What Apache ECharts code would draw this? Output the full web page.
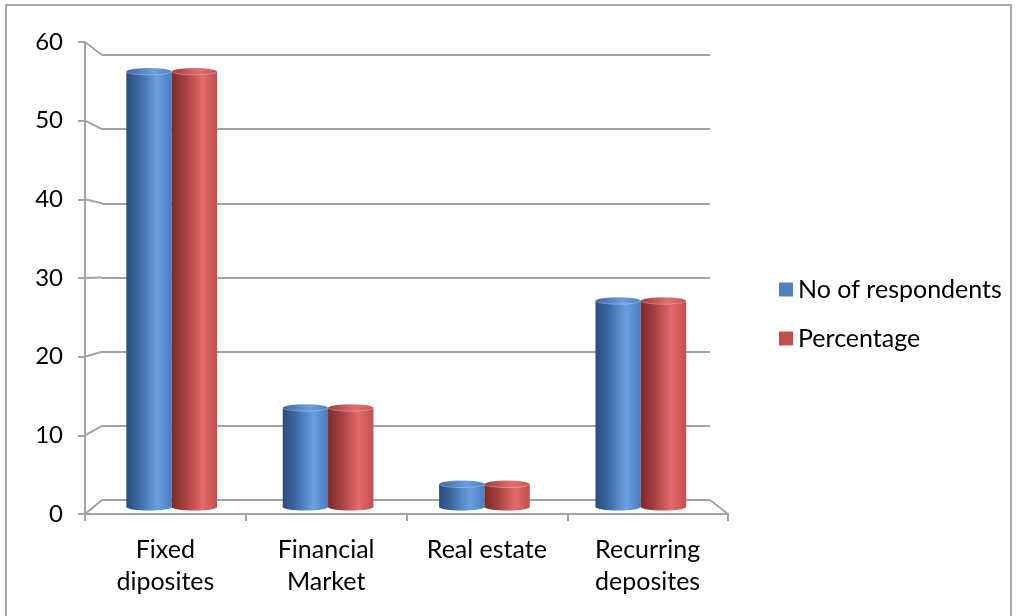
<!DOCTYPE html>
<html>
<head>
<meta charset="utf-8">
<script src="https://cdn.jsdelivr.net/npm/echarts@6/dist/echarts.min.js"></script>
<style>
  html, body { margin: 0; padding: 0; background: #ffffff; }
  #chart { width: 1016px; height: 616px; }
</style>
</head>
<body>
<div id="chart"></div>
<script>
// Investment avenues chosen by respondents
const categories = ['Fixed\ndiposites', 'Financial\nMarket', 'Real estate', 'Recurring\ndeposites'];
const respondents = [57, 13, 3, 27];
const percentage = [57, 13, 3, 27];
const seriesNames = ['No of respondents', 'Percentage'];
const yTicks = [0, 10, 20, 30, 40, 50, 60];

const FONT = 'Lato, "Open Sans", sans-serif';
const GRID_COLOR = '#a3a3a3';

// Three planes of the pseudo-3D box: front edge, bar plane, back wall
const FRONT = { left: 85, right: 288, top: 42, bottom: 102 };
const MID = { left: 93.5, right: 297, top: 48.5, bottom: 109 };
const BACK = { left: 102, right: 306, top: 55, bottom: 116 };

const chart = echarts.init(document.getElementById('chart'), null, { renderer: 'canvas' });

// Cylinder shading palettes (left edge dark, highlight right of centre)
const palettes = [
  { solid: '#4f81bd', stops: ['#2a4c7c', '#3f6aa6', '#6b9fe0', '#4a7cc0'], top: ['#3c66a0', '#6e9edc', '#4e7fc0'] },
  { solid: '#c0504d', stops: ['#7a2b2b', '#a84040', '#e36a69', '#c05050'], top: ['#9a3c3c', '#e07070', '#c25656'] }
];

function cylinderRenderer(seriesIdx) {
  return function (params, api) {
    const idx = api.value(0);
    const val = api.value(1);
    const topPt = api.coord([idx, val]);
    const basePt = api.coord([idx, 0]);
    const band = api.size([1, 0])[0];
    const w = band * 0.29;
    const x0 = topPt[0] + (seriesIdx === 0 ? -w : 0);
    const ry = 3.5;
    const p = palettes[seriesIdx];
    const bodyFill = new echarts.graphic.LinearGradient(0, 0, 1, 0, [
      { offset: 0, color: p.stops[0] },
      { offset: 0.3, color: p.stops[1] },
      { offset: 0.68, color: p.stops[2] },
      { offset: 1, color: p.stops[3] }
    ]);
    const topFill = new echarts.graphic.LinearGradient(0, 0, 1, 0, [
      { offset: 0, color: p.top[0] },
      { offset: 0.6, color: p.top[1] },
      { offset: 1, color: p.top[2] }
    ]);
    return {
      type: 'group',
      children: [
        { type: 'ellipse', shape: { cx: x0 + w / 2, cy: basePt[1], rx: w / 2, ry: ry }, style: { fill: bodyFill } },
        { type: 'rect', shape: { x: x0, y: topPt[1], width: w, height: basePt[1] - topPt[1] }, style: { fill: bodyFill } },
        { type: 'ellipse', shape: { cx: x0 + w / 2, cy: topPt[1], rx: w / 2, ry: ry }, style: { fill: topFill, stroke: 'rgba(255,255,255,0.35)', lineWidth: 0.8 } }
      ]
    };
  };
}

// Slanted connectors from the front axis ticks to the back-wall gridlines
function connectorRenderer(params, api) {
  const v = api.value(0);
  const rect = params.coordSys;
  const backY = api.coord([0, v])[1];
  const frontY = chart.convertToPixel({ yAxisIndex: 0 }, v);
  const lines = [
    { type: 'line', shape: { x1: FRONT.left, y1: frontY, x2: rect.x, y2: backY }, style: { stroke: GRID_COLOR, lineWidth: 2 } }
  ];
  if (v === 0) {
    const frontRight = 1016 - FRONT.right;
    lines.push({ type: 'line', shape: { x1: rect.x + rect.width, y1: backY, x2: frontRight, y2: frontY }, style: { stroke: GRID_COLOR, lineWidth: 2 } });
  }
  return { type: 'group', children: lines };
}

const hiddenCat = { type: 'category', data: categories, show: false, boundaryGap: true };
const hiddenVal = { type: 'value', min: 0, max: 60, interval: 10, show: false };

chart.setOption({
  backgroundColor: '#ffffff',
  animation: false,
  grid: [
    Object.assign({ containLabel: false }, FRONT),
    Object.assign({ containLabel: false }, BACK),
    Object.assign({ containLabel: false }, MID)
  ],
  xAxis: [
    {
      type: 'category', gridIndex: 0, data: categories, boundaryGap: true,
      axisLine: { lineStyle: { color: GRID_COLOR, width: 2 } },
      axisTick: { show: true, interval: 0, length: 7, lineStyle: { color: GRID_COLOR, width: 2 } },
      axisLabel: { interval: 0, color: '#000', fontFamily: FONT, fontSize: 25, lineHeight: 32, margin: 20 }
    },
    Object.assign({ gridIndex: 1 }, hiddenCat),
    Object.assign({ gridIndex: 2 }, hiddenCat)
  ],
  yAxis: [
    {
      type: 'value', gridIndex: 0, min: 0, max: 60, interval: 10,
      axisLine: { show: true, lineStyle: { color: GRID_COLOR, width: 2 } },
      axisTick: { show: true, length: 7, lineStyle: { color: GRID_COLOR, width: 2 } },
      axisLabel: { color: '#000', fontFamily: FONT, fontSize: 24, margin: 22 },
      splitLine: { show: false }
    },
    {
      type: 'value', gridIndex: 1, min: 0, max: 60, interval: 10,
      axisLine: { show: false }, axisTick: { show: false }, axisLabel: { show: false },
      splitLine: { show: true, lineStyle: { color: GRID_COLOR, width: 2 } }
    },
    Object.assign({ gridIndex: 2 }, hiddenVal)
  ],
  legend: {
    orient: 'vertical', left: 779, top: 277, padding: 0,
    itemWidth: 14, itemHeight: 14, itemGap: 24, icon: 'rect',
    textStyle: { fontFamily: FONT, fontSize: 25, color: '#000' },
    data: seriesNames
  },
  graphic: [
    { type: 'rect', shape: { x: 6, y: 5, width: 1005, height: 620 }, style: { fill: 'none', stroke: '#8c8c8c', lineWidth: 1.5 }, silent: true }
  ],
  series: [
    {
      type: 'custom', name: 'wall-connectors', xAxisIndex: 1, yAxisIndex: 1,
      data: yTicks.map(v => [v]), renderItem: connectorRenderer, silent: true, z: 1
    },
    {
      type: 'custom', name: seriesNames[0], xAxisIndex: 2, yAxisIndex: 2,
      itemStyle: { color: palettes[0].solid },
      data: respondents.map((v, i) => [i, v]), renderItem: cylinderRenderer(0), z: 3
    },
    {
      type: 'custom', name: seriesNames[1], xAxisIndex: 2, yAxisIndex: 2,
      itemStyle: { color: palettes[1].solid },
      data: percentage.map((v, i) => [i, v]), renderItem: cylinderRenderer(1), z: 3
    }
  ]
});
</script>
</body>
</html>
